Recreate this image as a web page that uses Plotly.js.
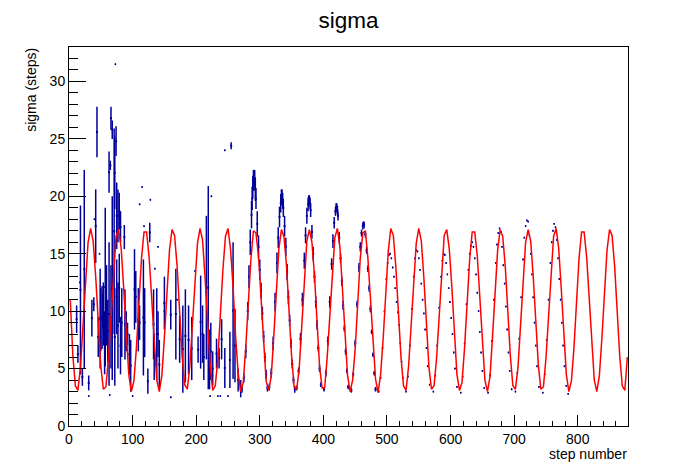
<!DOCTYPE html>
<html>
<head>
<meta charset="utf-8">
<script src="https://cdn.plot.ly/plotly-3.0.1.min.js"></script>
<style>
  html, body { margin: 0; padding: 0; background: #fff; }
  #chart { width: 698px; height: 474px; }
</style>
</head>
<body>
<div id="chart"></div>
<script>
// ── sigma vs step number: red = reference histogram, blue = measured (with errors)

const BIN_WIDTH = 4;   // red histogram bins, in steps

// red histogram contents, one value per bin of 4 steps (0..880)
const redValues = [
  11.0, 6.2, 3.5, 3.1, 5.1, 8.7, 12.8, 16.0, 17.2, 16.1, 13.0, 8.9, 5.2, 3.2, 3.4, 5.9, 9.7, 13.7, 16.5, 17.1, 15.5, 12.0, 7.9, 4.5, 3.0, 3.9, 6.8, 10.8, 14.6, 16.9, 16.9, 14.7, 11.0, 6.9, 4.0, 3.0, 4.4, 7.7, 11.8, 15.3, 17.1, 16.6, 13.9,
  9.8, 6.0, 3.6, 3.2, 5.2, 8.6, 12.9, 15.9, 17.2, 16.2, 12.9, 9.0, 5.3, 3.1, 3.5, 5.8, 9.8, 13.6, 16.5, 17.2, 15.4, 12.1, 7.8, 4.6, 3.0, 3.8, 6.9, 10.7, 14.5, 17.0, 16.8, 14.8, 10.9, 7.0, 3.9, 3.1, 4.3, 7.8, 11.7, 15.4, 17.1, 16.5, 14.0,
  9.9, 6.1, 3.4, 3.2, 5.0, 8.8, 12.7, 16.1, 17.1, 16.0, 13.1, 8.8, 5.2, 3.3, 3.3, 6.0, 9.6, 13.8, 16.4, 17.2, 15.6, 11.9, 8.0, 4.4, 3.0, 4.0, 6.7, 10.9, 14.6, 16.8, 17.0, 14.6, 11.1, 6.8, 4.1, 2.9, 4.5, 7.6, 11.9, 15.2, 17.2, 16.6, 13.8,
  10.0, 6.0, 3.5, 3.1, 5.2, 8.6, 12.8, 15.9, 17.2, 16.1, 12.9, 9.0, 5.1, 3.2, 3.5, 5.9, 9.8, 13.6, 16.6, 17.1, 15.4, 12.1, 7.9, 4.5, 3.1, 3.8, 6.8, 10.8, 14.5, 16.9, 16.9, 14.8, 10.9, 6.9, 4.0, 3.0, 4.3, 7.8, 11.8, 15.3, 17.1, 16.5, 13.9,
  9.9, 6.1, 3.5, 3.2, 5.1, 8.7, 12.8, 16.0, 17.1, 16.1, 13.0, 8.9, 5.3, 3.2, 3.4, 5.9, 9.7, 13.7, 16.5, 17.2, 15.5, 12.0, 7.9, 4.5, 3.0, 3.9, 6.8, 10.8, 14.6, 16.9, 16.9, 14.7, 11.0, 6.9, 4.0, 3.0, 4.4, 7.7, 11.8, 15.3, 17.1, 16.6, 13.9,
  9.9, 6.1, 3.5, 3.1, 6.0
];

// early noisy part: long vertical error bars (step, low, high)
const barX  = [12, 14, 18, 21, 24, 31, 36, 39, 42, 44, 46, 49, 50, 52, 53, 54, 56, 57, 59, 61, 63, 63, 65, 66, 66, 68, 68, 71, 72, 72, 74, 75, 75, 77, 77, 79, 79, 81, 81, 83, 87, 88, 90, 92, 95, 97,
               103, 105, 109, 111, 117, 119, 124, 127, 133, 134, 138, 140, 142, 150, 160, 168, 174, 179, 183, 188, 193, 203, 207, 210, 212, 216, 219, 221, 223, 226, 232, 236, 240, 245, 253, 255, 258, 261, 266, 270];
const barLo = [8.1, 5.5, 4.5, 3.5, 5.0, 3.1, 7.8, 10.0, 14.2, 23.4, 6.0, 5.0, 6.5, 6.7, 8.5, 7.0, 4.5, 5.2, 7.0, 5.5, 20.3, 3.5, 22.3, 25.8, 5.0, 25.0, 4.0, 8.0, 18.9, 3.5, 23.5, 15.4, 8.0, 16.0, 5.0, 17.1, 9.0, 16.0, 4.5, 6.0, 15.4, 5.8, 6.5, 7.0, 4.5, 3.0,
               8.4, 9.0, 6.5, 7.5, 4.4, 6.0, 2.8, 16.0, 5.8, 4.0, 4.0, 6.0, 3.2, 8.4, 8.4, 5.8, 5.5, 2.9, 3.8, 4.5, 4.0, 5.5, 5.0, 5.5, 4.0, 5.8, 3.2, 3.2, 4.0, 3.5, 5.0, 5.0, 5.8, 3.3, 3.3, 24.1, 4.1, 3.8, 3.0, 2.5];
const barHi = [10.5, 7.0, 19.2, 5.0, 22.3, 4.4, 11.0, 11.2, 20.6, 27.8, 9.5, 13.7, 12.0, 12.2, 11.5, 12.5, 10.0, 19.0, 14.0, 11.0, 23.9, 16.0, 23.1, 27.8, 14.0, 26.6, 20.0, 25.9, 25.2, 12.0, 26.1, 21.2, 14.5, 20.6, 12.5, 20.3, 15.0, 18.7, 9.5, 12.0, 17.5, 11.9, 10.0, 9.0, 8.0, 7.5,
               15.4, 13.5, 12.0, 10.5, 14.5, 12.0, 5.0, 17.7, 11.9, 8.0, 12.0, 10.0, 7.5, 13.0, 11.0, 13.7, 9.6, 10.5, 11.9, 10.5, 9.5, 7.8, 13.1, 10.5, 8.0, 18.3, 20.9, 8.4, 9.0, 6.5, 7.6, 6.8, 9.3, 6.8, 8.2, 24.7, 16.0, 10.2, 5.0, 4.0];

// first regular periods (steps 270-485): points with moderate errors
const earlyX = [272, 275, 278, 281, 283, 285, 287, 288, 289, 290, 291, 292, 293, 294, 296, 298, 300, 302, 304, 306, 308, 310, 312,
                315, 318, 321, 324, 327, 329, 331, 333, 334, 335, 336, 337, 339, 341, 343, 345, 347, 349, 351, 353, 355,
                358, 361, 364, 367, 370, 372, 374, 376, 377, 378, 379, 380, 382, 384, 386, 388, 390, 392, 394, 396,
                401, 404, 407, 410, 413, 415, 417, 419, 420, 421, 422, 423, 425, 427, 429, 431, 433, 435, 437, 439,
                444, 447, 450, 453, 456, 458, 460, 462, 463, 464, 466, 468, 470, 472, 474, 476, 478, 480, 482];
const earlyY = [3.2, 4.2, 6.5, 10.0, 13.0, 16.0, 18.4, 19.8, 20.8, 21.4, 21.3, 21.6, 20.6, 19.8, 17.6, 15.6, 13.6, 11.8, 9.8, 7.8, 6.0, 4.5, 3.3,
                3.4, 4.6, 7.2, 10.8, 14.2, 16.4, 18.2, 19.4, 19.9, 20.0, 19.6, 19.0, 17.4, 15.6, 13.4, 11.2, 9.2, 7.2, 5.4, 4.0, 3.2,
                3.3, 4.8, 7.6, 11.0, 14.4, 16.6, 18.3, 19.3, 19.6, 19.7, 19.4, 18.8, 16.9, 15.0, 13.0, 10.8, 8.8, 6.8, 5.0, 3.6,
                3.2, 4.6, 7.4, 10.8, 14.1, 16.1, 17.7, 18.7, 19.0, 19.1, 18.8, 18.3, 16.4, 14.6, 12.6, 10.5, 8.5, 6.5, 4.8, 3.4,
                3.1, 4.5, 7.2, 10.6, 13.8, 15.6, 16.8, 17.4, 17.6, 17.5, 16.7, 15.3, 13.7, 12.0, 10.2, 8.2, 6.2, 4.6, 3.2];
const earlyErr = [0.3, 0.4, 0.6, 0.8, 1.0, 1.1, 1.2, 1.0, 1.0, 0.9, 0.8, 0.7, 1.0, 0.9, 1.1, 1.0, 0.9, 0.7, 0.6, 0.5, 0.4, 0.4, 0.3,
                  0.3, 0.4, 0.6, 0.8, 0.9, 0.9, 0.9, 0.8, 0.7, 0.6, 0.7, 0.8, 0.9, 0.8, 0.7, 0.6, 0.5, 0.4, 0.4, 0.3, 0.3,
                  0.2, 0.3, 0.5, 0.6, 0.7, 0.7, 0.7, 0.6, 0.5, 0.4, 0.5, 0.6, 0.6, 0.6, 0.5, 0.5, 0.4, 0.3, 0.3, 0.2,
                  0.2, 0.3, 0.4, 0.5, 0.5, 0.6, 0.5, 0.4, 0.4, 0.3, 0.4, 0.4, 0.5, 0.4, 0.4, 0.4, 0.3, 0.3, 0.2, 0.2,
                  0.2, 0.2, 0.3, 0.3, 0.4, 0.4, 0.3, 0.3, 0.2, 0.3, 0.3, 0.3, 0.3, 0.3, 0.3, 0.2, 0.2, 0.2, 0.2];

// later periods (steps 485-785) and stray single samples: small errors
const lateX = [487, 490, 493, 496, 499, 501, 503, 505, 507, 509, 511, 513, 515, 517, 519, 521, 523, 525,
               530, 533, 536, 539, 542, 544, 546, 548, 550, 552, 554, 556, 558, 560, 562, 564, 567,
               573, 576, 579, 582, 585, 587, 589, 591, 593, 595, 597, 599, 601, 603, 605, 607, 610,
               616, 619, 622, 625, 628, 630, 632, 634, 636, 638, 640, 642, 644, 646, 648, 650, 653,
               659, 662, 665, 668, 671, 673, 675, 677, 679, 681, 683, 685, 687, 689, 691, 693, 696,
               702, 705, 708, 711, 714, 716, 718, 720, 722, 724, 726, 728, 730, 732, 734, 736, 739,
               745, 748, 751, 754, 757, 759, 761, 763, 765, 767, 769, 771, 773, 775, 777, 779, 782, 785,
               17, 31, 40, 48, 64, 73, 100, 111, 115, 118, 128, 135, 140, 150, 160, 170, 198, 222, 224, 234, 238, 245, 250];
const lateY = [3.0, 4.2, 6.8, 10.0, 12.8, 14.2, 14.9, 15.0, 14.6, 13.8, 13.0, 12.0, 10.8, 9.9, 8.8, 7.2, 5.6, 4.2,
               3.0, 4.3, 7.0, 10.2, 13.0, 14.6, 15.3, 15.2, 14.6, 13.6, 12.4, 11.0, 9.8, 8.4, 6.8, 5.2, 3.6,
               3.0, 4.4, 7.0, 10.3, 13.0, 14.4, 15.0, 14.9, 14.2, 13.2, 12.0, 10.8, 9.4, 8.0, 6.4, 5.0, 3.4,
               2.9, 4.3, 7.2, 10.6, 13.6, 15.0, 15.7, 16.0, 15.6, 14.6, 13.2, 11.6, 10.0, 8.2, 6.4, 4.8, 3.3,
               2.9, 4.4, 7.4, 11.0, 14.2, 15.8, 16.8, 17.2, 16.9, 15.6, 14.0, 12.4, 10.4, 8.4, 6.4, 4.8, 3.2,
               3.0, 4.6, 7.6, 11.2, 14.5, 16.4, 17.4, 17.9, 17.8, 16.6, 15.0, 13.2, 11.2, 9.0, 7.0, 5.2, 3.4,
               2.9, 4.5, 7.5, 11.0, 14.2, 16.0, 17.0, 17.6, 17.3, 16.2, 14.6, 12.8, 11.0, 9.0, 7.0, 5.2, 3.5, 2.8,
               12.5, 2.6, 18.0, 15.0, 2.7, 31.5, 2.6, 19.3, 20.8, 17.4, 19.7, 13.7, 15.6, 10.0, 2.5, 11.0, 13.5, 2.6, 20.0, 2.6, 2.6, 24.0, 2.6];

const BLUE = '#000099';
const RED  = '#ff0000';

// histogram drawn through its bin centres
const redX = redValues.map((v, i) => i * BIN_WIDTH + BIN_WIDTH / 2);

const barMid  = barLo.map((lo, i) => (lo + barHi[i]) / 2);
const barHalf = barLo.map((lo, i) => (barHi[i] - lo) / 2);

const blueMarker = { color: BLUE, size: 2, symbol: 'square', line: { width: 0 } };

const data = [
    { x: barX, y: barMid, type: 'scatter', mode: 'markers', marker: blueMarker,
      error_y: { type: 'data', array: barHalf, color: BLUE, thickness: 1.5, width: 0 } },
    { x: earlyX, y: earlyY, type: 'scatter', mode: 'markers', marker: blueMarker,
      error_y: { type: 'data', array: earlyErr, color: BLUE, thickness: 1.5, width: 0 } },
    { x: lateX, y: lateY, type: 'scatter', mode: 'markers',
      marker: { color: BLUE, size: 1.5, symbol: 'square', line: { width: 0 } },
      error_y: { type: 'constant', value: 0.08, color: BLUE, thickness: 1.2, width: 0 } },
    { x: redX, y: redValues, type: 'scatter', mode: 'lines',
      line: { color: RED, width: 1.5, shape: 'linear' } }
];

const FONT = 'Liberation Sans, Arial, Helvetica, sans-serif';

const layout = {
    width: 698, height: 474,
    margin: { l: 69, r: 70, t: 47, b: 48 },
    paper_bgcolor: '#fff', plot_bgcolor: '#fff',
    showlegend: false,
    font: { family: FONT, size: 14, color: '#000' },
    title: { text: 'sigma', font: { family: FONT, size: 22.5, color: '#000' },
             x: 0.5, xref: 'paper', xanchor: 'center', y: 0.957, yref: 'container', yanchor: 'middle' },
    xaxis: {
        range: [0, 879], showgrid: false, zeroline: false,
        showline: true, mirror: true, linecolor: '#000', linewidth: 1,
        ticks: 'inside', ticklen: 11, tickcolor: '#000', tickwidth: 1, dtick: 100, tick0: 0,
        minor: { ticks: 'inside', ticklen: 5.5, dtick: 20, tickcolor: '#000', tickwidth: 1, showgrid: false },
        tickfont: { size: 14 }
    },
    yaxis: {
        range: [0, 33], showgrid: false, zeroline: false,
        showline: true, mirror: true, linecolor: '#000', linewidth: 1,
        ticks: 'inside', ticklen: 17, tickcolor: '#000', tickwidth: 1, dtick: 5, tick0: 0,
        minor: { ticks: 'inside', ticklen: 9, dtick: 1, tickcolor: '#000', tickwidth: 1, showgrid: false },
        tickfont: { size: 14 }
    },
    annotations: [
        { text: 'sigma (steps)', textangle: -90, xref: 'paper', yref: 'paper',
          x: -0.068, y: 1.003, xanchor: 'center', yanchor: 'top', showarrow: false,
          font: { family: FONT, size: 14 } },
        { text: 'step number', xref: 'paper', yref: 'paper',
          x: 1.0, y: -0.074, xanchor: 'right', yanchor: 'middle', showarrow: false,
          borderpad: 0, font: { family: FONT, size: 14 } }
    ]
};

Plotly.newPlot('chart', data, layout, { staticPlot: true, displayModeBar: false });
</script>
</body>
</html>
